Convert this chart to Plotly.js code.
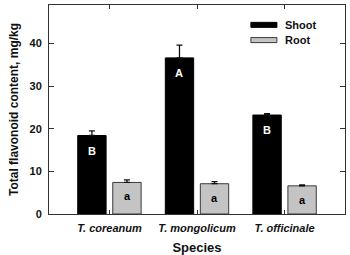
<!DOCTYPE html>
<html>
<head>
<meta charset="utf-8">
<script src="https://cdn.plot.ly/plotly-3.0.1.min.js"></script>
<style>
  html, body { margin: 0; padding: 0; background: #fff; }
  #chart { width: 350px; height: 255px; }
</style>
</head>
<body>
<div id="chart"></div>
<script>
// Total flavonoid content by species and plant part
const species = ['T. coreanum', 'T. mongolicum', 'T. officinale'];
const shootValues = [18.4, 36.6, 23.2];
const shootErrors = [1.1, 3.0, 0.3];
const rootValues = [7.4, 7.1, 6.6];
const rootErrors = [0.6, 0.5, 0.2];
const shootLetters = ['B', 'A', 'B'];
const rootLetters = ['a', 'a', 'a'];
const seriesNames = ['Shoot', 'Root'];
const yTicks = [0, 10, 20, 30, 40];

const FONT = 'Liberation Sans, Arial, sans-serif';
const ROOT_FILL = '#c4c4c4';
const ROOT_EDGE = '#3a3a3a';

const errStyle = (errs) => ({
  type: 'data', symmetric: false, array: errs, arrayminus: errs.map(() => 0),
  color: '#111', thickness: 1.3, width: 3
});

const traces = [
  {
    type: 'bar', name: seriesNames[0], x: species, y: shootValues,
    marker: { color: '#000', line: { color: '#000', width: 1 } },
    error_y: errStyle(shootErrors), showlegend: false, hoverinfo: 'skip'
  },
  {
    type: 'bar', name: seriesNames[1], x: species, y: rootValues,
    marker: { color: ROOT_FILL, line: { color: ROOT_EDGE, width: 1 } },
    error_y: errStyle(rootErrors), showlegend: false, hoverinfo: 'skip'
  }
];

// Significance letters just below the top of each bar
const SLOT = 17.6;
const annotations = [];
species.forEach((sp, i) => {
  annotations.push({
    x: sp, y: shootValues[i], xref: 'x', yref: 'y', text: shootLetters[i],
    showarrow: false, xshift: -SLOT, yshift: -15,
    font: { family: FONT, size: 11, color: '#fff', weight: 'bold' }
  });
  annotations.push({
    x: sp, y: rootValues[i], xref: 'x', yref: 'y', text: rootLetters[i],
    showarrow: false, xshift: SLOT, yshift: -14,
    font: { family: FONT, size: 11, color: '#000', weight: 'bold' }
  });
});

// Legend drawn as wide, flat swatches in the upper right
const legendX0 = 0.682, legendX1 = 0.770, legendTextX = 0.792;
const legendRows = [
  { y: 0.905, fill: '#000', edge: '#000' },
  { y: 0.832, fill: ROOT_FILL, edge: ROOT_EDGE }
];
const shapes = [];
legendRows.forEach((row, i) => {
  shapes.push({
    type: 'rect', xref: 'paper', yref: 'paper',
    x0: legendX0, x1: legendX1, y0: row.y - 0.012, y1: row.y + 0.012,
    fillcolor: row.fill, line: { color: row.edge, width: 1 }
  });
  annotations.push({
    xref: 'paper', yref: 'paper', x: legendTextX, y: row.y,
    xanchor: 'left', yanchor: 'middle', text: seriesNames[i], showarrow: false,
    font: { family: FONT, size: 11, color: '#111', weight: 'bold' }
  });
});

const layout = {
  width: 350, height: 255,
  margin: { l: 49, r: 5, t: 5, b: 41 },
  paper_bgcolor: '#fff', plot_bgcolor: '#fff',
  font: { family: FONT, color: '#111' },
  barmode: 'group', bargap: 0.2, bargroupgap: 0.19,
  xaxis: {
    type: 'category', range: [-0.69, 2.69],
    showline: true, linecolor: '#333', linewidth: 1, mirror: 'ticks',
    ticks: 'inside', ticklen: 4, tickcolor: '#333', tickwidth: 1,
    ticklabelstandoff: 4,
    tickfont: { family: FONT, size: 11, color: '#111', weight: 'bold', style: 'italic' },
    showgrid: false, zeroline: false,
    title: { text: 'Species', standoff: 12, font: { family: FONT, size: 13, color: '#111', weight: 'bold' } }
  },
  yaxis: {
    range: [0, 49], tickvals: yTicks,
    showline: true, linecolor: '#333', linewidth: 1, mirror: 'ticks',
    ticks: 'inside', ticklen: 5, tickcolor: '#333', tickwidth: 1,
    ticklabelstandoff: 4,
    tickfont: { family: FONT, size: 11, color: '#111', weight: 'bold' },
    showgrid: false, zeroline: false,
    title: { text: 'Total flavonoid content, mg/kg', standoff: 8, font: { family: FONT, size: 12, color: '#111', weight: 'bold' } }
  },
  annotations: annotations,
  shapes: shapes
};

Plotly.newPlot('chart', traces, layout, { staticPlot: true, displayModeBar: false });
</script>
</body>
</html>
